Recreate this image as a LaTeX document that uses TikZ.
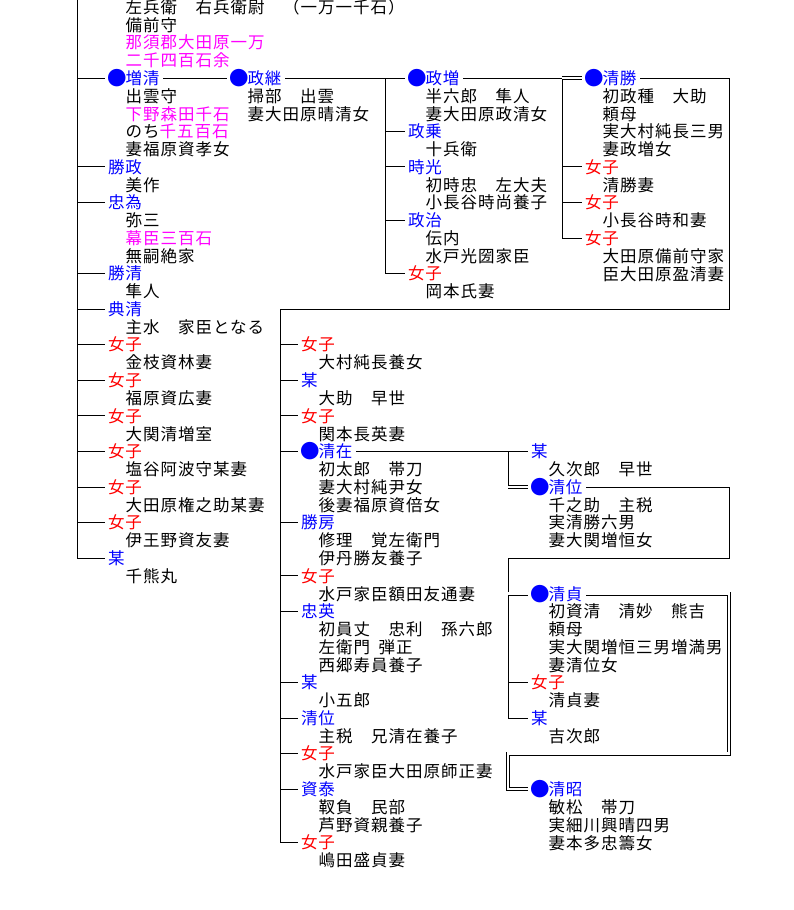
\documentclass[tikz,border=0pt]{standalone}
\usepackage{graphicx}
\usepackage{fontspec}
\newfontfamily\jp[LetterSpace=6.06]{Noto Sans CJK JP}
\definecolor{nblue}{RGB}{0,0,255}
\definecolor{nred}{RGB}{255,0,0}
\definecolor{nmag}{RGB}{255,0,255}
\newcommand\stj{\rule[-1.98pt]{0pt}{16.5pt}}
\newcommand\mg[1]{\textcolor{nmag}{#1}}
\newcommand\bdot{\makebox[17.5pt][c]{\raisebox{-0.9pt}{\scalebox{1.18}{●}}}}
\newcommand\pn[5]{\node[#2] (#1) at ({#3-3.5},{ry(#4)}) {\stj #5};}
\newcommand\pd[4]{\node[dt] (#1) at ({#2+17.5},{ry(#3+1)-8.25}) {\stj #4};}
\begin{document}
\begin{tikzpicture}[x=1pt,y=-1pt,
  declare function={ry(\q)=78+17.78*\q;},
  jpf/.style={font=\jp\fontsize{16.5pt}{17.78pt}\selectfont},
  mn/.style={jpf, inner sep=0pt, outer xsep=3.5pt, anchor=west, text=nblue},
  fn/.style={mn, text=nred},
  dt/.style={jpf, inner sep=0pt, anchor=north west, align=left, text=black},
  ln/.style={draw=black, line width=0.85pt},
  dbl/.style={draw=black, line width=0.85pt, double=white, double distance=2.5pt},
]
\useasboundingbox (0,0) rectangle (794,910);
\clip (0,0) rectangle (794,910);
% ---------- column A
\pd{A0d}{108}{-5}{左兵衛　右兵衛尉　（一万一千石）\\備前守\\\mg{那須郡大田原一万}\\\mg{二千四百石余}}
\pn{A1}{mn}{108}{0}{\bdot 増清}
\pd{A1d}{108}{0}{出雲守\\\mg{下野森田千石}\\のち\mg{千五百石}\\妻福原資孝女}
\pn{A2}{mn}{108}{5}{勝政} \pd{A2d}{108}{5}{美作}
\pn{A3}{mn}{108}{7}{忠為} \pd{A3d}{108}{7}{弥三\\\mg{幕臣三百石}\\無嗣絶家}
\pn{A4}{mn}{108}{11}{勝清} \pd{A4d}{108}{11}{隼人}
\pn{A5}{mn}{108}{13}{典清} \pd{A5d}{108}{13}{主水　家臣となる}
\pn{A6}{fn}{108}{15}{女子} \pd{A6d}{108}{15}{金枝資林妻}
\pn{A7}{fn}{108}{17}{女子} \pd{A7d}{108}{17}{福原資広妻}
\pn{A8}{fn}{108}{19}{女子} \pd{A8d}{108}{19}{大関清増室}
\pn{A9}{fn}{108}{21}{女子} \pd{A9d}{108}{21}{塩谷阿波守某妻}
\pn{A10}{fn}{108}{23}{女子} \pd{A10d}{108}{23}{大田原権之助某妻}
\pn{A11}{fn}{108}{25}{女子} \pd{A11d}{108}{25}{伊王野資友妻}
\pn{A12}{mn}{108}{27}{某} \pd{A12d}{108}{27}{千熊丸}
% ---------- column B
\pn{B1}{mn}{230}{0}{\bdot 政継} \pd{B1d}{230}{0}{掃部　出雲\\妻大田原晴清女}
% ---------- column C
\pn{C1}{mn}{408}{0}{\bdot 政増} \pd{C1d}{408}{0}{半六郎　隼人\\妻大田原政清女}
\pn{C2}{mn}{408}{3}{政乗} \pd{C2d}{408}{3}{十兵衛}
\pn{C3}{mn}{408}{5}{時光} \pd{C3d}{408}{5}{初時忠　左大夫\\小長谷時尚養子}
\pn{C4}{mn}{408}{8}{政治} \pd{C4d}{408}{8}{伝内\\水戸光圀家臣}
\pn{C5}{fn}{408}{11}{女子} \pd{C5d}{408}{11}{岡本氏妻}
% ---------- column D
\pn{D1}{mn}{585}{0}{\bdot 清勝} \pd{D1d}{585}{0}{初政種　大助\\頼母\\実大村純長三男\\妻政増女}
\pn{D2}{fn}{585}{5}{女子} \pd{D2d}{585}{5}{清勝妻}
\pn{D3}{fn}{585}{7}{女子} \pd{D3d}{585}{7}{小長谷時和妻}
\pn{D4}{fn}{585}{9}{女子} \pd{D4d}{585}{9}{大田原備前守家\\臣大田原盈清妻}
% ---------- column E
\pn{E1}{fn}{301}{15}{女子} \pd{E1d}{301}{15}{大村純長養女}
\pn{E2}{mn}{301}{17}{某} \pd{E2d}{301}{17}{大助　早世}
\pn{E3}{fn}{301}{19}{女子} \pd{E3d}{301}{19}{関本長英妻}
\pn{E4}{mn}{301}{21}{\bdot 清在} \pd{E4d}{301}{21}{初太郎　帯刀\\妻大村純尹女\\後妻福原資倍女}
\pn{E5}{mn}{301}{25}{勝房} \pd{E5d}{301}{25}{修理　覚左衛門\\伊丹勝友養子}
\pn{E6}{fn}{301}{28}{女子} \pd{E6d}{301}{28}{水戸家臣額田友通妻}
\pn{E7}{mn}{301}{30}{忠英} \pd{E7d}{301}{30}{初員丈　忠利　孫六郎\\左衛門\hspace{8.5pt}弾正\\西郷寿員養子}
\pn{E8}{mn}{301}{34}{某} \pd{E8d}{301}{34}{小五郎}
\pn{E9}{mn}{301}{36}{清位} \pd{E9d}{301}{36}{主税　兄清在養子}
\pn{E10}{fn}{301}{38}{女子} \pd{E10d}{301}{38}{水戸家臣大田原師正妻}
\pn{E11}{mn}{301}{40}{資泰} \pd{E11d}{301}{40}{靫負　民部\\芦野資親養子}
\pn{E12}{fn}{301}{43}{女子} \pd{E12d}{301}{43}{嶋田盛貞妻}
% ---------- column F
\pn{F1}{mn}{531}{21}{某} \pd{F1d}{531}{21}{久次郎　早世}
\pn{F2}{mn}{531}{23}{\bdot 清位} \pd{F2d}{531}{23}{千之助　主税\\実清勝六男\\妻大関増恒女}
\pn{F3}{mn}{531}{29}{\bdot 清貞} \pd{F3d}{531}{29}{初資清　清妙　熊吉\\頼母\\実大関増恒三男増満男\\妻清位女}
\pn{F4}{fn}{531}{34}{女子} \pd{F4d}{531}{34}{清貞妻}
\pn{F5}{mn}{531}{36}{某} \pd{F5d}{531}{36}{吉次郎}
\pn{F6}{mn}{531}{40}{\bdot 清昭} \pd{F6d}{531}{40}{敏松　帯刀\\実細川興晴四男\\妻本多忠籌女}
% ---------- connectors
\coordinate (tA) at (77,-20);
\draw[ln] (tA) |- (A12.west);
\foreach \n in {A1,A2,A3,A4,A5,A6,A7,A8,A9,A10,A11}
  \draw[ln] (tA |- \n.west) -- (\n.west);
\draw[ln] (A1.east) -- (B1.west);
\draw[ln] (B1.east) -- (C1.west);
\coordinate (tC) at (385,{ry(0)});
\draw[ln] (tC) |- (C5.west);
\foreach \n in {C2,C3,C4}
  \draw[ln] (tC |- \n.west) -- (\n.west);
\coordinate (tD) at (562,{ry(0)});
\draw[ln] (C1.east) -- (tD);
\draw[ln] (tD) |- (D4.west);
\foreach \n in {D2,D3}
  \draw[ln] (tD |- \n.west) -- (\n.west);
\draw[dbl] (tD) -- (D1.west);
\coordinate (cD) at (729,{ry(13)});
\coordinate (tE) at (280,{ry(13)});
\draw[ln] (D1.east) -| (cD) -- (tE) |- (E12.west);
\foreach \n in {E1,E2,E3,E4,E5,E6,E7,E8,E9,E10,E11}
  \draw[ln] (tE |- \n.west) -- (\n.west);
\coordinate (tF) at (508,{ry(21)});
\draw[ln] (E4.east) -- (F1.west);
\draw[ln] (tF) -- ([yshift=-1.6pt]tF |- F2.west);
\draw[dbl] (tF |- F2.west) -- (F2.west);
\coordinate (cF) at (729,{ry(27)});
\coordinate (tG) at (508,{ry(27)});
\draw[ln] (F2.east) -| (cF) -- (tG) |- (F5.west);
\draw[dbl] (tG |- F3.west) -- (F3.west);
\draw[ln] (tG |- F4.west) -- (F4.west);
\coordinate (cG1) at (729,{ry(38)});
\coordinate (cG2) at (508,{ry(38)});
\draw[dbl] (F3.east) -| (cG1) -- (cG2) |- (F6.west);
\end{tikzpicture}
\end{document}
